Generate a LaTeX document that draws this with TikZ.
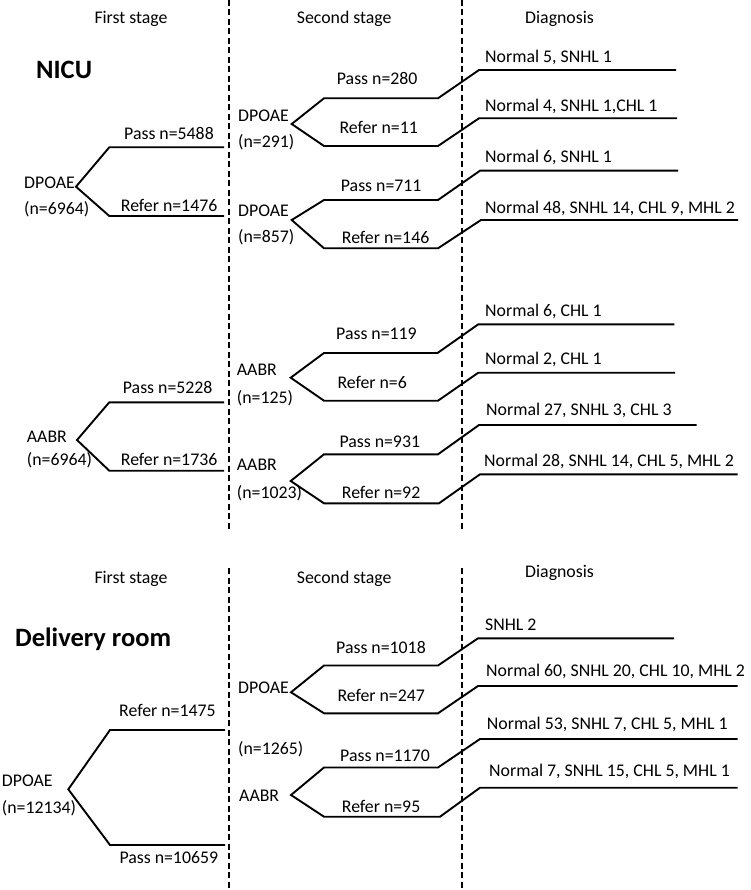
\documentclass[tikz,border=0pt]{standalone}
\usepackage{fontspec}
\setmainfont{Carlito}
\begin{document}
\begin{tikzpicture}[x=1pt,y=-1pt,
  lbl/.style={anchor=base west,inner sep=0pt,font=\fontsize{17.8}{21}\selectfont},
  ttl/.style={anchor=base west,inner sep=0pt,font=\fontsize{26.5}{30}\selectfont\bfseries},
  br/.style={line width=1.9pt,line join=miter},
  sep/.style={line width=2.2pt,dash pattern=on 6pt off 3.5pt}]
\useasboundingbox (0,0) rectangle (750,890);
% separators
\coordinate (s1a) at (229,0);   \coordinate (s1b) at (229,530);
\coordinate (s2a) at (462,0);   \coordinate (s2b) at (462,530);
\coordinate (s3a) at (229,568); \coordinate (s3b) at (229,890);
\coordinate (s4a) at (462,568); \coordinate (s4b) at (462,890);
\draw[sep] (s1a) -- (s1b);
\draw[sep] (s2a) -- (s2b);
\draw[sep] (s3a) -- (s3b);
\draw[sep] (s4a) -- (s4b);
% headers
\node[lbl] (h1) at (94.3,24) {First stage};
\node[lbl] (h2) at (296.7,24) {Second stage};
\node[lbl] (h3) at (525,24) {Diagnosis};
\node[lbl] (h4) at (94.3,583) {First stage};
\node[lbl] (h5) at (296.7,583) {Second stage};
\node[lbl] (h6) at (525,577) {Diagnosis};
\node[ttl] (nicu) at (36,78.3) {NICU};
\node[ttl] (dr) at (15,646.7) {Delivery room};
% ---------- NICU DPOAE ----------
\node[lbl] (a1) at (24,188.3) {DPOAE};
\node[lbl] (a1n) at (24,215) {(n=6964)};
\coordinate (a1v) at (76,186.7);
\coordinate (a1u) at (109.3,147.3); \coordinate (a1ue) at (224,147.3);
\coordinate (a1d) at (109.3,216);   \coordinate (a1de) at (224,216);
\draw[br] (a1ue) -- (a1u) -- (a1v) -- (a1d) -- (a1de);
\node[lbl] (a1p) at (124,139.3) {Pass n=5488};
\node[lbl] (a1r) at (120.7,211.7) {Refer n=1476};
% second stage DPOAE 291
\node[lbl] (b1) at (238,121.7) {DPOAE};
\node[lbl] (b1n) at (238,148) {(n=291)};
\coordinate (b1v) at (291.7,124);
\coordinate (b1u) at (324,98.3); \coordinate (b1uk) at (438,98.3); \coordinate (b1uj) at (479,70); \coordinate (b1ue) at (676,70);
\coordinate (b1d) at (324,146); \coordinate (b1dk) at (438,146); \coordinate (b1dj) at (479,118.3); \coordinate (b1de) at (677,118.3);
\draw[br] (b1ue) -- (b1uj) -- (b1uk) -- (b1u) -- (b1v) -- (b1d) -- (b1dk) -- (b1dj) -- (b1de);
\node[lbl] (b1p) at (336.7,85) {Pass n=280};
\node[lbl] (b1r) at (339.3,134) {Refer n=11};
\node[lbl] (b1a) at (485,62.7) {Normal 5, SNHL 1};
\node[lbl] (b1b) at (485,111.7) {Normal 4, SNHL 1,CHL 1};
% second stage DPOAE 857
\node[lbl] (b2) at (238,216.7) {DPOAE};
\node[lbl] (b2n) at (238,243) {(n=857)};
\coordinate (b2v) at (291.7,220);
\coordinate (b2u) at (324,200); \coordinate (b2uk) at (438,200); \coordinate (b2uj) at (480,170.7); \coordinate (b2ue) at (678,170.7);
\coordinate (b2d) at (324,248.3); \coordinate (b2dk) at (438,248.3); \coordinate (b2dj) at (481,220); \coordinate (b2de) at (738,220);
\draw[br] (b2ue) -- (b2uj) -- (b2uk) -- (b2u) -- (b2v) -- (b2d) -- (b2dk) -- (b2dj) -- (b2de);
\node[lbl] (b2p) at (340.7,191.7) {Pass n=711};
\node[lbl] (b2r) at (341.7,243.3) {Refer n=146};
\node[lbl] (b2a) at (485,162.3) {Normal 6, SNHL 1};
\node[lbl] (b2b) at (485,213.3) {Normal 48, SNHL 14, CHL 9, MHL 2};
% ---------- NICU AABR ----------
\node[lbl] (a2) at (26.7,442.7) {AABR};
\node[lbl] (a2n) at (26.7,465) {(n=6964)};
\coordinate (a2v) at (77,440);
\coordinate (a2u) at (109.3,402.3); \coordinate (a2ue) at (224,402.3);
\coordinate (a2d) at (109.3,470.7); \coordinate (a2de) at (224,470.7);
\draw[br] (a2ue) -- (a2u) -- (a2v) -- (a2d) -- (a2de);
\node[lbl] (a2p) at (122.7,393.3) {Pass n=5228};
\node[lbl] (a2r) at (120.7,465) {Refer n=1736};
% AABR 125
\node[lbl] (b3) at (236.7,375) {AABR};
\node[lbl] (b3n) at (236.7,403.3) {(n=125)};
\coordinate (b3v) at (290.7,377.7);
\coordinate (b3u) at (324,353); \coordinate (b3uk) at (437.5,353); \coordinate (b3uj) at (478.3,324.3); \coordinate (b3ue) at (674.3,324.3);
\coordinate (b3d) at (324,400.7); \coordinate (b3dk) at (438,400.7); \coordinate (b3dj) at (478.3,372.7); \coordinate (b3de) at (675,372.7);
\draw[br] (b3ue) -- (b3uj) -- (b3uk) -- (b3u) -- (b3v) -- (b3d) -- (b3dk) -- (b3dj) -- (b3de);
\node[lbl] (b3p) at (336,339.3) {Pass n=119};
\node[lbl] (b3r) at (337.3,388.3) {Refer n=6};
\node[lbl] (b3a) at (485,316) {Normal 6, CHL 1};
\node[lbl] (b3b) at (485,364.3) {Normal 2, CHL 1};
% AABR 1023
\node[lbl] (b4) at (236.7,470.7) {AABR};
\node[lbl] (b4n) at (236.7,498.3) {(n=1023)};
\coordinate (b4v) at (290.7,481);
\coordinate (b4u) at (324,454.3); \coordinate (b4uk) at (438,454.3); \coordinate (b4uj) at (479,425); \coordinate (b4ue) at (696.7,425);
\coordinate (b4d) at (324,503.3); \coordinate (b4dk) at (439,503.3); \coordinate (b4dj) at (480,474.3); \coordinate (b4de) at (737.7,474.3);
\draw[br] (b4ue) -- (b4uj) -- (b4uk) -- (b4u) -- (b4v) -- (b4d) -- (b4dk) -- (b4dj) -- (b4de);
\node[lbl] (b4p) at (339.3,447.3) {Pass n=931};
\node[lbl] (b4r) at (341.7,498.3) {Refer n=92};
\node[lbl] (b4a) at (486,415.7) {Normal 27, SNHL 3, CHL 3};
\node[lbl] (b4b) at (484,466.7) {Normal 28, SNHL 14, CHL 5, MHL 2};
% ---------- Delivery room ----------
\node[lbl] (c1) at (1.7,786.7) {DPOAE};
\node[lbl] (c1n) at (1.7,813.3) {(n=12134)};
\coordinate (c1v) at (68.3,789.3);
\coordinate (c1u) at (110,730); \coordinate (c1ue) at (225,730);
\coordinate (c1d) at (110,845); \coordinate (c1de) at (225,845);
\draw[br] (c1ue) -- (c1u) -- (c1v) -- (c1d) -- (c1de);
\node[lbl] (c1r) at (119,716.7) {Refer n=1475};
\node[lbl] (c1p) at (119.3,863.3) {Pass n=10659};
% second stage DPOAE
\node[lbl] (d1) at (238,693.3) {DPOAE};
\node[lbl] (dn) at (238,754) {(n=1265)};
\coordinate (d1v) at (291,692.3);
\coordinate (d1u) at (324,665.5); \coordinate (d1uk) at (438,665.5); \coordinate (d1uj) at (478,638.3); \coordinate (d1ue) at (674,638.3);
\coordinate (d1d) at (324,713.3); \coordinate (d1dk) at (438,713.3); \coordinate (d1dj) at (478,686); \coordinate (d1de) at (737.7,686);
\draw[br] (d1ue) -- (d1uj) -- (d1uk) -- (d1u) -- (d1v) -- (d1d) -- (d1dk) -- (d1dj) -- (d1de);
\node[lbl] (d1p) at (336,653.3) {Pass n=1018};
\node[lbl] (d1r) at (337.3,701.7) {Refer n=247};
\node[lbl] (d1a) at (485,630) {SNHL 2};
\node[lbl] (d1b) at (486,676.7) {Normal 60, SNHL 20, CHL 10, MHL 2};
% second stage AABR
\node[lbl] (d2) at (239,801.7) {AABR};
\coordinate (d2v) at (291,795);
\coordinate (d2u) at (324,767.5); \coordinate (d2uk) at (438,767.5); \coordinate (d2uj) at (480,739); \coordinate (d2ue) at (737.7,739);
\coordinate (d2d) at (324,816.7); \coordinate (d2dk) at (440,816.7); \coordinate (d2dj) at (480,787.7); \coordinate (d2de) at (737.7,787.7);
\draw[br] (d2ue) -- (d2uj) -- (d2uk) -- (d2u) -- (d2v) -- (d2d) -- (d2dk) -- (d2dj) -- (d2de);
\node[lbl] (d2p) at (340,761.7) {Pass n=1170};
\node[lbl] (d2r) at (341.7,812.7) {Refer n=95};
\node[lbl] (d2a) at (486.7,729) {Normal 53, SNHL 7, CHL 5, MHL 1};
\node[lbl] (d2b) at (489,776.7) {Normal 7, SNHL 15, CHL 5, MHL 1};
\end{tikzpicture}
\end{document}
